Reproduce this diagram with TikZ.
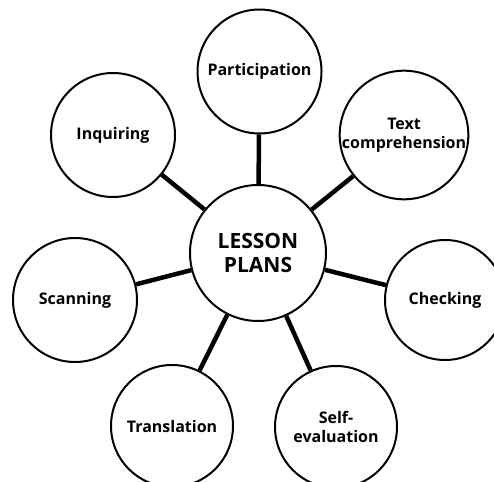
\documentclass[tikz,border=0pt]{standalone}
\usepackage{fontspec}
\setmainfont{Open Sans}
\usepackage{tikz}
\usetikzlibrary{positioning}

\begin{document}
\begin{tikzpicture}[
  x=1pt, y=-1pt,
  topic/.style={circle, draw=black, line width=2pt, fill=white, inner sep=0pt, minimum size=124pt, align=center, font=\fontsize{16}{19.5}\selectfont\bfseries},
  hub/.style={topic, minimum size=136pt, font=\fontsize{21}{24}\selectfont\bfseries},
  spoke/.style={line width=4.5pt, black}
]
  \clip (0,0) rectangle (494,481);

  % centre and the seven topics round it
  \node[hub] (lesson) at (258,253) {LESSON\\PLANS};
  \node[topic] (part) at (259.5,71.5) {Participation};
  \node[topic, minimum size=128pt] (textc) at (404,135) {Text\\comprehension};
  \node[topic, minimum size=120pt] (check) at (445,300) {Checking};
  \node[topic, minimum size=122pt] (self) at (336,427) {Self-\\evaluation};
  \node[topic, minimum size=122pt] (trans) at (172,426) {Translation};
  \node[topic] (scan) at (75,300) {Scanning};
  \node[topic] (inq) at (113,135) {Inquiring};

  \draw[spoke] (lesson) -- (part);
  \draw[spoke] (lesson) -- (textc);
  \draw[spoke] (lesson) -- (check);
  \draw[spoke] (lesson) -- (self);
  \draw[spoke] (lesson) -- (trans);
  \draw[spoke] (lesson) -- (scan);
  \draw[spoke] (lesson) -- (inq);
\end{tikzpicture}
\end{document}
